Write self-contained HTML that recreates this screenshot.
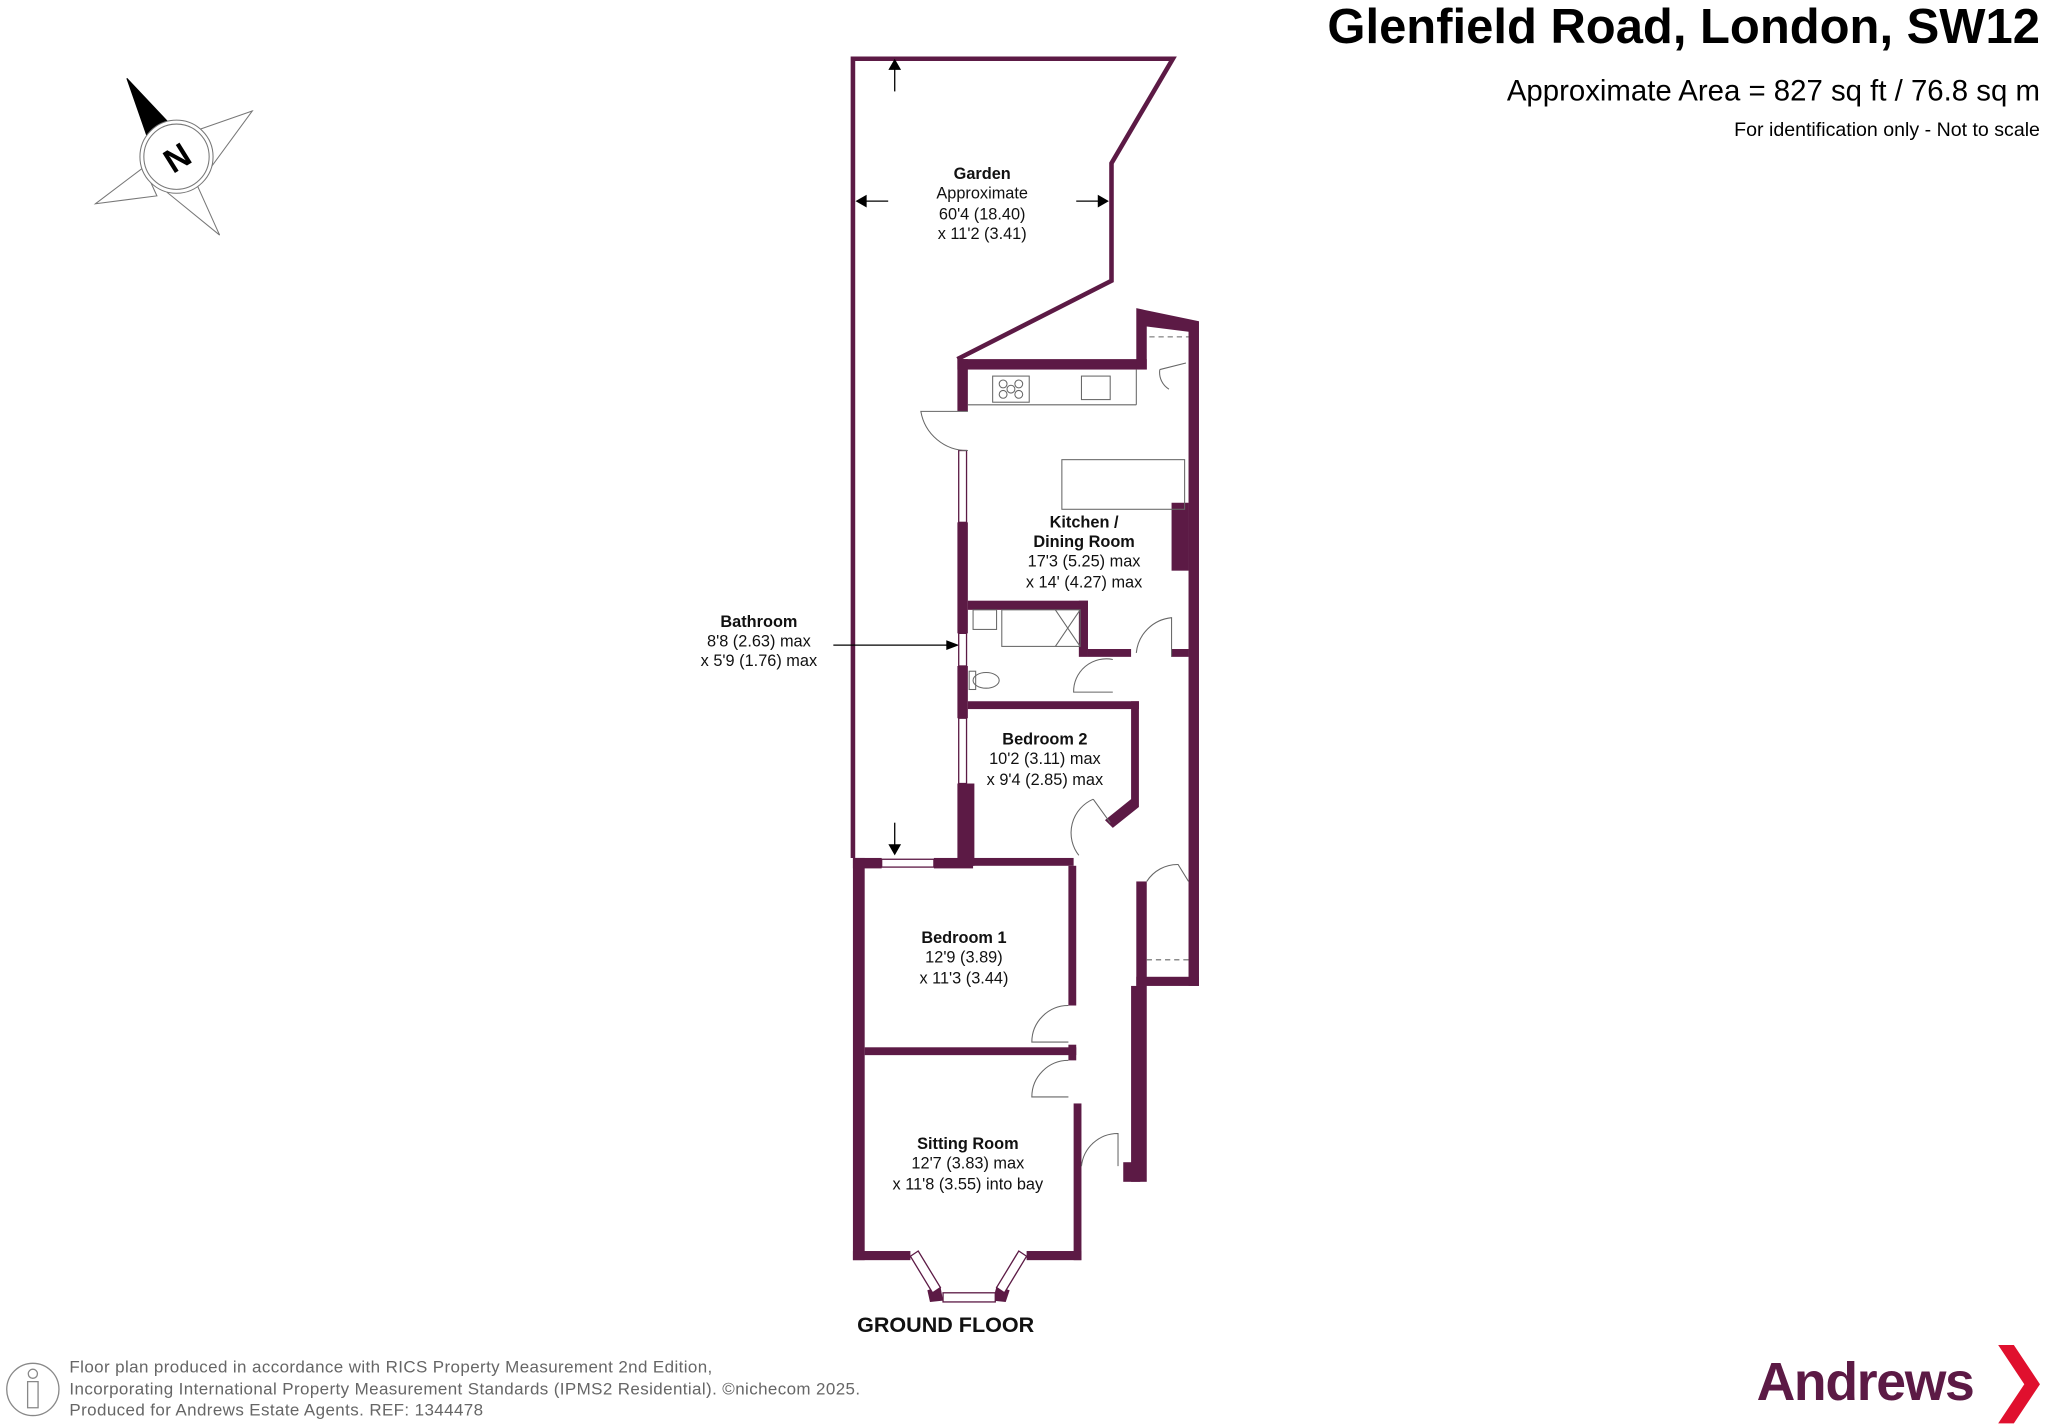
<!DOCTYPE html>
<html><head><meta charset="utf-8"><style>
html,body{margin:0;padding:0;background:#fff;}
svg{display:block;}
text{font-family:"Liberation Sans",Arial,sans-serif;}
</style></head><body>
<svg width="2048" height="1426" viewBox="0 0 1568 1092" xmlns="http://www.w3.org/2000/svg">
<rect width="1568" height="1092" fill="#fff"/>
<!-- compass -->
<g stroke="#777" stroke-width="0.8" fill="#fff">
<polygon points="97,60 135,120 193,85 135,120 168,180 135,120 73,156 135,120"/>
<polygon points="193,85 150,100 160,130"/>
<polygon points="168,180 150,140 125,145"/>
<polygon points="73,156 110,128 120,150"/>
<polygon points="97,60 112,103 130,95" fill="#000" stroke="#000"/>
<circle cx="135" cy="120" r="28"/>
<circle cx="135" cy="120" r="25"/>
</g>
<text x="135" y="130" font-size="26" font-weight="bold" text-anchor="middle" transform="rotate(-32 135 120)">N</text>

<!-- header -->
<text x="1562" y="33" font-size="37.5" font-weight="bold" text-anchor="end">Glenfield Road, London, SW12</text>
<text x="1562" y="77" font-size="22.5" text-anchor="end">Approximate Area = 827 sq ft / 76.8 sq m</text>
<text x="1562" y="104" font-size="15" text-anchor="end">For identification only - Not to scale</text>

<!-- garden -->
<g stroke="#5c1a45" fill="none" stroke-width="3.5">
<polyline points="653,657 653,45 898,45 851,125 851,215 733,275"/>
</g>
<g stroke="#000" stroke-width="1" fill="#000">
<line x1="685" y1="70" x2="685" y2="48"/><polygon points="681,53 689,53 685,46"/>
<line x1="680" y1="154" x2="658" y2="154"/><polygon points="663,150 663,158 656,154"/>
<line x1="824" y1="154" x2="846" y2="154"/><polygon points="841,150 841,158 848,154"/>
<line x1="685" y1="630" x2="685" y2="652"/><polygon points="681,647 689,647 685,654"/>
<line x1="638" y1="494" x2="730" y2="494"/><polygon points="725,491 725,497 733,494"/>
</g>

<!-- walls -->
<g fill="#5c1a45">
<rect x="733" y="275" width="145" height="8"/>
<polygon points="870,236 918,246 918,755 910,755 910,254 878,250 878,283 870,283"/>
<rect x="733" y="275" width="8" height="40"/>
<rect x="733" y="400" width="8" height="85"/>
<rect x="733" y="510" width="8" height="40"/>
<rect x="733" y="600" width="13" height="63"/>
<rect x="897" y="385" width="13" height="52"/>
<rect x="741" y="460" width="92" height="7"/>
<rect x="826" y="460" width="7" height="43"/>
<rect x="833" y="497" width="33" height="6"/>
<rect x="897" y="497" width="13" height="6"/>
<rect x="741" y="537" width="131" height="6"/>
<polygon points="866,537 872,537 872,618 852,634 846,628 866,612"/>
<rect x="742" y="657" width="80" height="6"/>
<rect x="870" y="675" width="8" height="80"/>
<rect x="870" y="748" width="48" height="7"/>
<rect x="866" y="755" width="12" height="150"/>
<rect x="860" y="890" width="13" height="15"/>
<rect x="653" y="657" width="9" height="308"/>
<rect x="653" y="657" width="22" height="8"/>
<rect x="715" y="657" width="30" height="8"/>
<rect x="818" y="663" width="6" height="107"/>
<rect x="662" y="802" width="162" height="6"/>
<rect x="818" y="800" width="6" height="12"/>
<rect x="822" y="845" width="6" height="120"/>
<rect x="653" y="958" width="44" height="7"/>
<rect x="786" y="958" width="42" height="7"/>
<polygon points="710,988 720,985 722,996 712,997"/>
<polygon points="763,985 773,988 770,997 760,996"/>
</g>
<g stroke="#5c1a45" stroke-width="1" fill="#fff">
<polygon points="697,962 703,958 720,986 714,990"/>
<polygon points="786,962 780,958 763,986 769,990"/>
<rect x="722" y="990" width="40" height="7"/>
<rect x="675" y="658" width="40" height="6"/>
<rect x="734" y="345" width="6" height="55"/>
<rect x="734" y="485" width="6" height="25"/>
<rect x="734" y="550" width="6" height="50"/>
</g>
<g stroke="#666" stroke-width="0.8" fill="none">
<line x1="741" y1="310" x2="870" y2="310"/>
<line x1="870" y1="283" x2="870" y2="310"/>
<rect x="760" y="288" width="28" height="20"/>
<circle cx="768" cy="294" r="3"/><circle cx="780" cy="294" r="3"/><circle cx="774" cy="298" r="3"/><circle cx="768" cy="302" r="3"/><circle cx="780" cy="302" r="3"/>
<rect x="828" y="288" width="22" height="18"/>
<rect x="813" y="352" width="94" height="38"/>
<rect x="745" y="467" width="18" height="15"/>
<rect x="767" y="467" width="60" height="28"/>
<line x1="808" y1="467" x2="827" y2="495"/><line x1="827" y1="467" x2="808" y2="495"/>
<ellipse cx="755" cy="521" rx="10" ry="6"/>
<rect x="742" y="514" width="5" height="14"/>
<line x1="880" y1="258" x2="910" y2="258" stroke-dasharray="4,3"/>
<line x1="878" y1="735" x2="910" y2="735" stroke-dasharray="4,3"/>
<path d="M741,315 L705,315 A36,36 0 0 0 741,345"/>
<path d="M897,503 L897,473 A30,30 0 0 0 870,500"/>
<path d="M852,505 A25,25 0 0 0 822,530 L852,530"/>
<path d="M888,283 L908,278 M888,283 A15,15 0 0 0 895,298"/>
<path d="M837,612 L850,630 M837,612 A28,28 0 0 0 826,655"/>
<path d="M878,675 A28,28 0 0 1 902,662 L910,675"/>
<path d="M818,770 A28,28 0 0 0 790,798 L818,798"/>
<path d="M818,812 A28,28 0 0 0 790,840 L818,840"/>
<path d="M828,893 A28,28 0 0 1 856,868 L856,893"/>
</g>

<g font-size="12.5" text-anchor="middle" fill="#111">
<text x="752" y="137" font-weight="bold">Garden</text>
<text x="752" y="152">Approximate</text>
<text x="752" y="168">60'4 (18.40)</text>
<text x="752" y="183">x 11'2 (3.41)</text>
<text x="830" y="404" font-weight="bold">Kitchen /</text>
<text x="830" y="419" font-weight="bold">Dining Room</text>
<text x="830" y="434">17'3 (5.25) max</text>
<text x="830" y="450">x 14' (4.27) max</text>
<text x="581" y="480" font-weight="bold">Bathroom</text>
<text x="581" y="495">8'8 (2.63) max</text>
<text x="581" y="510">x 5'9 (1.76) max</text>
<text x="800" y="570" font-weight="bold">Bedroom 2</text>
<text x="800" y="585">10'2 (3.11) max</text>
<text x="800" y="601">x 9'4 (2.85) max</text>
<text x="738" y="722" font-weight="bold">Bedroom 1</text>
<text x="738" y="737">12'9 (3.89)</text>
<text x="738" y="753">x 11'3 (3.44)</text>
<text x="741" y="880" font-weight="bold">Sitting Room</text>
<text x="741" y="895">12'7 (3.83) max</text>
<text x="741" y="911">x 11'8 (3.55) into bay</text>
<text x="724" y="1020" font-size="16.5" font-weight="bold">GROUND FLOOR</text>
</g>

<g stroke="#888" stroke-width="1" fill="none">
<circle cx="25" cy="1064" r="20"/>
<circle cx="25" cy="1052" r="3.5"/>
<path d="M21,1058 L29,1058 L29,1078 L21,1078 Z"/>
</g>
<g font-size="13" fill="#666" letter-spacing="0.3">
<text x="53" y="1051">Floor plan produced in accordance with RICS Property Measurement 2nd Edition,</text>
<text x="53" y="1068">Incorporating International Property Measurement Standards (IPMS2 Residential).   ©nichecom 2025.</text>
<text x="53" y="1084">Produced for Andrews Estate Agents.   REF: 1344478</text>
</g>
<text x="1345" y="1072" font-size="41" font-weight="bold" fill="#5c1a45" letter-spacing="-1">Andrews</text>
<polygon points="1530,1030 1542,1030 1562,1060 1542,1090 1530,1090 1550,1060" fill="#e0102e"/>
</svg>
</body></html>
